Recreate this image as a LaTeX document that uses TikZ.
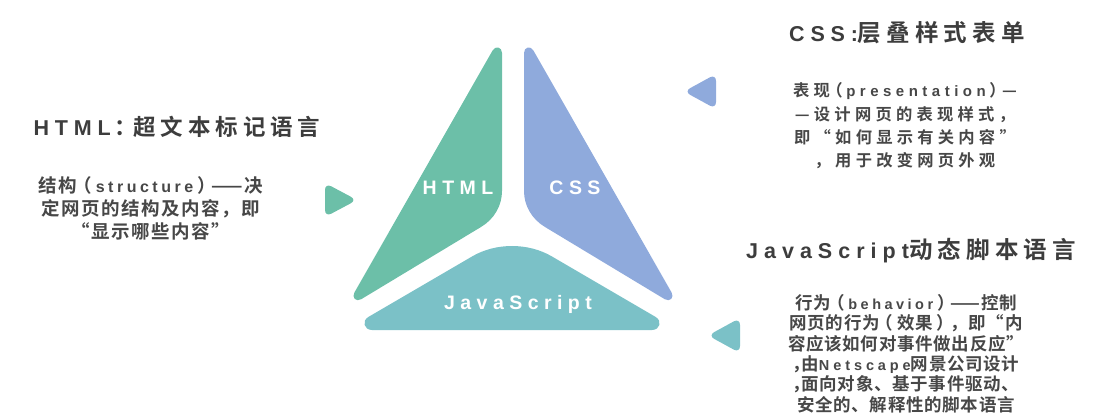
\documentclass[tikz,border=0pt]{standalone}
\usepackage{fontspec}
\usetikzlibrary{calc}
\newfontfamily\cjkF{Noto Sans CJK SC Bold}
\newfontfamily\latF{Liberation Sans Bold}
% #1 size, #2 baselineskip, #3 letter space
\newcommand\cjkset[3]{\fontsize{#1}{#2}\selectfont\cjkF\addfontfeature{LetterSpace=#3}}
\newcommand\Lt[3]{{\fontsize{#1}{#1}\selectfont\latF\addfontfeature{LetterSpace=#2}#3}}
\newcommand\hw[1]{{\addfontfeature{RawFeature=+halt}#1}}
\newcommand\lpar{\kern-.22em（\kern.22em}
\newcommand\rpar{\kern.22em）\kern-.22em}
\definecolor{cHTML}{HTML}{6CBFA8}
\definecolor{cCSS}{HTML}{8FAADC}
\definecolor{cJS}{HTML}{7BC1C7}
\definecolor{tdark}{HTML}{3D3D3D}
\definecolor{tbody}{HTML}{474747}
\tikzset{
  titletext/.style={inner sep=0pt, text=tdark},
  bodytext/.style={inner sep=0pt, text=tbody, align=center},
  shapelabel/.style={inner sep=0pt, text=white,
    font=\fontsize{19.5}{23}\selectfont\latF\addfontfeature{LetterSpace=28}},
  marker/.style={rounded corners=7pt},
}
\begin{document}
\begin{tikzpicture}[x=1pt,y=-1pt]
\useasboundingbox (0,0) rectangle (1103,414);
% corner points
\coordinate (h1) at (502,34);  \coordinate (h2) at (345,309);
\coordinate (h3) at (481,227); \coordinate (h4) at (502,191);
\coordinate (c1) at (524,34);  \coordinate (c2) at (681,309);
\coordinate (c3) at (545,227); \coordinate (c4) at (524,191);
\coordinate (j1) at (346,330); \coordinate (j2) at (472,256.5);
\coordinate (j3) at (552,256.5); \coordinate (j4) at (678,330);
% HTML piece
\fill[cHTML] ($(h1)!19pt!(h2)$) -- ($(h2)!19pt!(h1)$)
  .. controls ($(h2)!13pt!(h1)$) and ($(h2)!13pt!(h3)$) .. ($(h2)!19pt!(h3)$)
  -- (h3) .. controls (493.9,219.3) and (502,206) .. (h4)
  -- ($(h1)!19pt!(h4)$)
  .. controls ($(h1)!13pt!(h4)$) and ($(h1)!13pt!(h2)$) .. ($(h1)!19pt!(h2)$) -- cycle;
% CSS piece
\fill[cCSS] ($(c1)!19pt!(c2)$) -- ($(c2)!19pt!(c1)$)
  .. controls ($(c2)!13pt!(c1)$) and ($(c2)!13pt!(c3)$) .. ($(c2)!19pt!(c3)$)
  -- (c3) .. controls (532.1,219.3) and (524,206) .. (c4)
  -- ($(c1)!19pt!(c4)$)
  .. controls ($(c1)!13pt!(c4)$) and ($(c1)!13pt!(c2)$) .. ($(c1)!19pt!(c2)$) -- cycle;
% JavaScript piece
\fill[cJS] ($(j1)!26pt!(j4)$)
  .. controls ($(j1)!18pt!(j4)$) and ($(j1)!18pt!(j2)$) .. ($(j1)!26pt!(j2)$)
  -- (j2) .. controls (495.7,242.5) and (528.3,242.5) .. (j3)
  -- ($(j4)!26pt!(j3)$)
  .. controls ($(j4)!18pt!(j3)$) and ($(j4)!18pt!(j1)$) .. ($(j4)!26pt!(j1)$) -- cycle;
% markers
\fill[cHTML, marker] (325,183) -- (357,200) -- (325,217) -- cycle;
\fill[cCSS, marker] (716,74) -- (684,91.5) -- (716,109) -- cycle;
\fill[cJS, marker] (740,318) -- (708,335.5) -- (740,353) -- cycle;
% labels in shapes
\node[shapelabel] (lhtml) at (458,187.5) {HTML};
\node[shapelabel] (lcss) at (575,188) {CSS};
\node[shapelabel] (ljs) at (518,304.5) {JavaScript};
% titles
\node[titletext, font=\cjkset{22.5}{26}{22}] (thtml) at (177,127)
  {\Lt{21.5}{27}{HTML}\kern4pt：\kern-4pt超文本标记语言};
\node[titletext, font=\cjkset{23.5}{27}{22}] (tcss) at (907,33)
  {\Lt{21.5}{27}{CSS:}层叠样式表单};
\node[titletext, font=\cjkset{23.5}{27}{22}] (tjs) at (911,251)
  {\Lt{21.5}{28}{JavaScript}动态脚本语言};
% bodies
\node[bodytext, font=\cjkset{18.5}{23}{8}] (bhtml) at (151,208)
  {结构\lpar\Lt{16}{22}{structure}\rpar——决\\定网页的结构及内容，即\\“显示哪些内容”};
\node[bodytext, font=\cjkset{16.3}{23.3}{26}] (bcss) at (905,126)
  {表现\lpar\Lt{15}{30}{presentation}\rpar—\\—设计网页的表现样式，\\即“如何显示有关内容”\\，用于改变网页外观};
\node[bodytext, font=\cjkset{17.5}{20.4}{4}] (bjs) at (906,353.5)
  {行为\lpar\Lt{14.5}{24}{behavior}\rpar——控制\\网页的行为\lpar 效果\rpar，即“内\\容应该如何对事件做出反应”\\\hw{，}由\Lt{14.5}{27}{Netscape}网景公司设计\\\hw{，}面向对象、基于事件驱动、\\安全的、解释性的脚本语言};
\end{tikzpicture}
\end{document}
